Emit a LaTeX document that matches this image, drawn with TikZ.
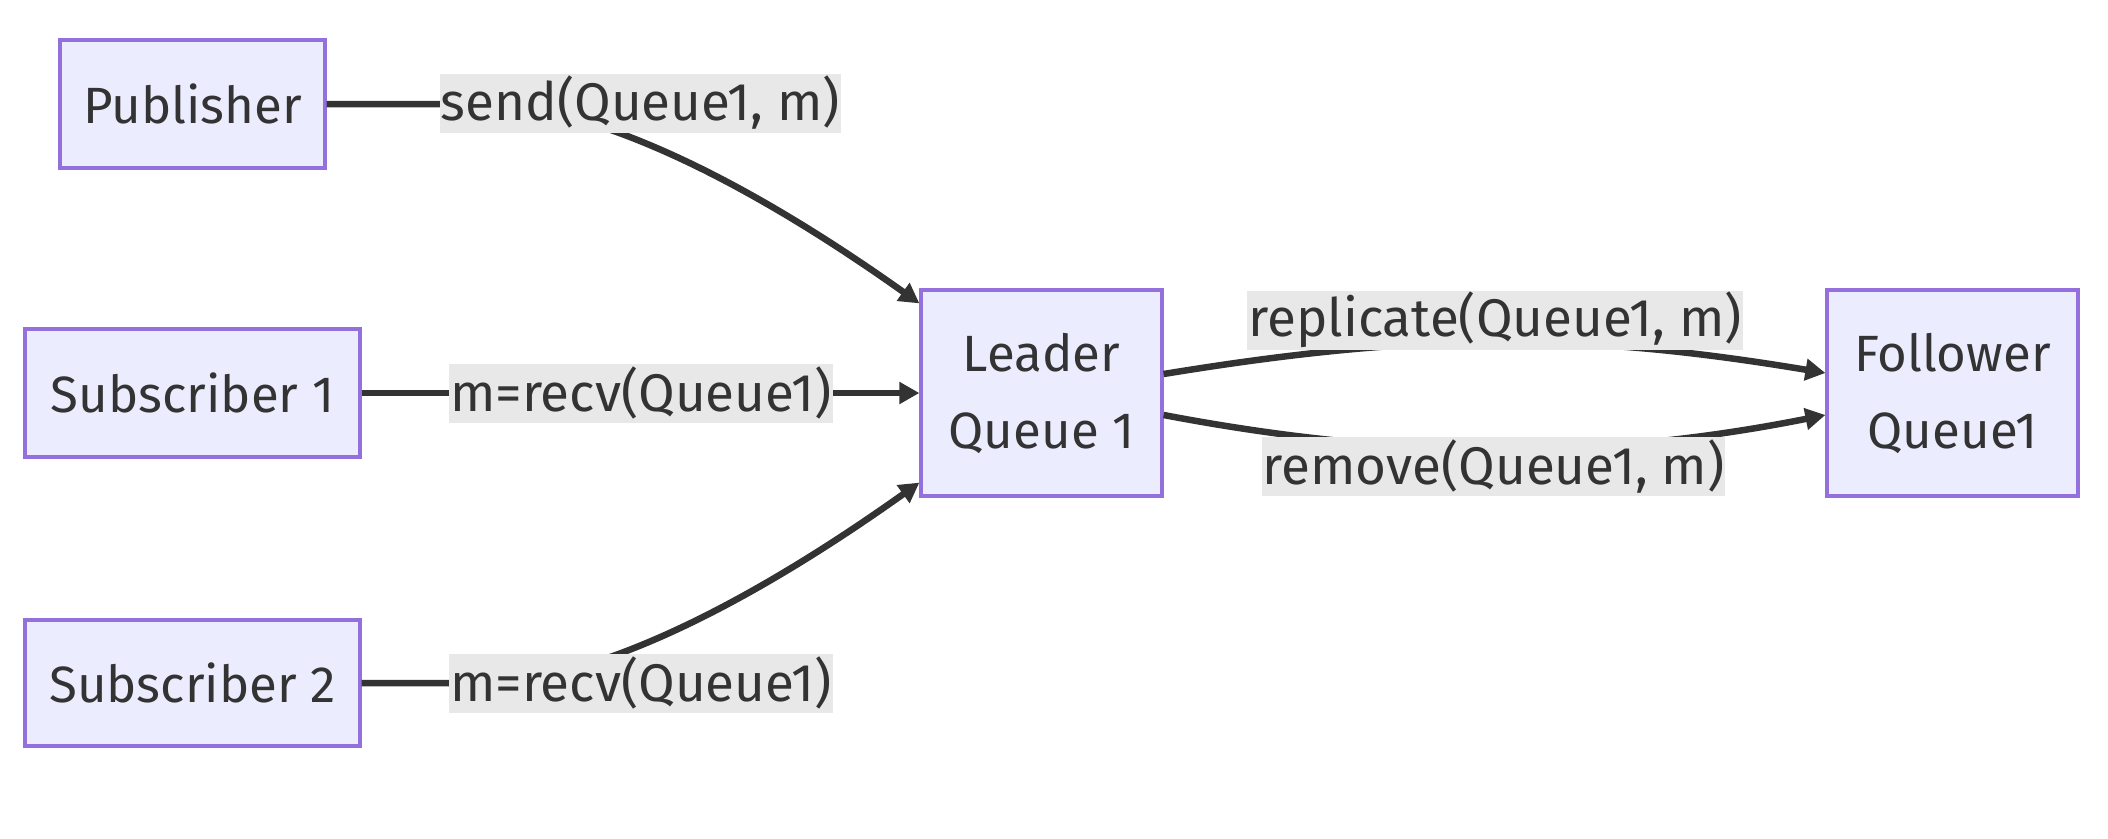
\documentclass[tikz,border=0pt]{standalone}
\usepackage{fontspec}
\setmainfont{Fira Sans}
\usetikzlibrary{arrows.meta}
\definecolor{nodefill}{HTML}{ECECFF}
\definecolor{nodeline}{HTML}{9370DB}
\definecolor{ink}{HTML}{333333}
\definecolor{labfill}{HTML}{E8E8E8}
\begin{document}
\begin{tikzpicture}[x=1pt,y=-1pt,
  box/.style={draw=nodeline,fill=nodefill,line width=3.2pt,text=ink,font=\fontsize{51}{77}\selectfont,align=center,inner sep=0pt},
  lab/.style={fill=labfill,text=ink,font=\fontsize{53}{60}\selectfont,inner xsep=1pt,inner ysep=0pt,minimum height=59pt},
  edge/.style={draw=ink,line width=6.5pt,-{Triangle[length=20pt,width=21pt]}}]
\useasboundingbox (0,0) rectangle (2108,838);
\fill[white] (0,0) rectangle (2108,838);
% nodes
\node[box,minimum width=265pt,minimum height=128pt] (pub) at (192.5,104) {Publisher};
\node[box,minimum width=335pt,minimum height=128pt] (s1) at (192.5,393) {Subscriber 1};
\node[box,minimum width=335pt,minimum height=126pt] (s2) at (192.5,683) {Subscriber 2};
\node[box,minimum width=241pt,minimum height=206pt] (lead) at (1041.5,393) {Leader\\Queue 1};
\node[box,minimum width=251pt,minimum height=206pt] (fol) at (1952.5,393) {Follower\\Queue1};
% edges
\path[edge] (pub.east) -- (480,104) .. controls (600,104) and (760,190) .. ([yshift=-15pt]lead.north west);
\path[edge] (s1.east) -- (lead.west);
\path[edge] (s2.east) -- (480,683) .. controls (600,683) and (760,596) .. ([yshift=15pt]lead.south west);
\path[edge] ([yshift=19pt]lead.east) .. controls (1420,332) and (1580,332) .. ([yshift=20pt]fol.west);
\path[edge] ([yshift=-22pt]lead.east) .. controls (1400,460) and (1600,460) .. ([yshift=-22pt]fol.west);
% labels
\node[lab] (l1) at (640.5,103) {send(Queue1, m)};
\node[lab] (l2) at (641,393) {m=recv(Queue1)};
\node[lab] (l3) at (641,683) {m=recv(Queue1)};
\node[lab] (l4) at (1495,320) {replicate(Queue1, m)};
\node[lab] (l5) at (1493.5,466) {remove(Queue1, m)};
\end{tikzpicture}
\end{document}
